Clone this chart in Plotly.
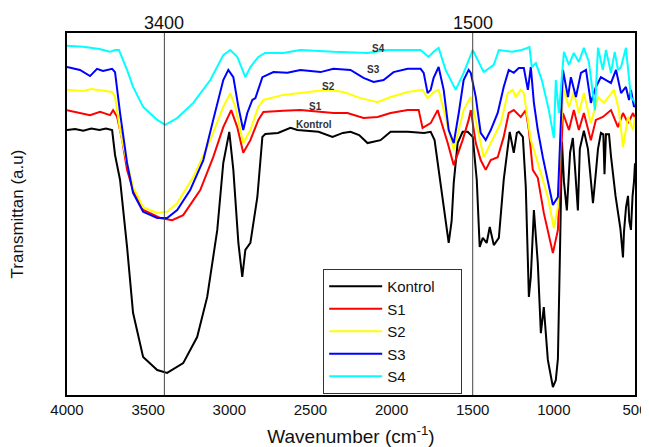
import plotly.graph_objects as go

# ---- Data (wavenumber in cm-1, transmittance in arbitrary units) ----
kontrol_wn = [4000, 3950, 3900, 3850, 3800, 3760, 3722, 3704, 3673, 3630, 3593, 3531, 3444, 3383,
              3284, 3198, 3136, 3074, 3037, 3000, 2975, 2944, 2920, 2901, 2870, 2827, 2796, 2778,
              2700, 2623, 2580, 2450, 2364, 2300, 2253, 2200, 2148, 2068, 2006, 1900, 1800, 1759,
              1735, 1716, 1679, 1648, 1630, 1617, 1593, 1562, 1531, 1500, 1475, 1457, 1438, 1414,
              1395, 1370, 1339, 1309, 1272, 1247, 1228, 1216, 1191, 1173, 1154, 1142, 1123, 1099,
              1080, 1062, 1037, 1006, 988, 975, 960, 950, 938, 920, 900, 883, 870, 852, 840, 815,
              790, 772, 759, 740, 728, 710, 695, 688, 679, 660, 648, 620, 605, 590, 574, 568, 555,
              543, 535, 525, 515, 506, 500]
kontrol_t = [73.2, 73.5, 73.0, 73.6, 73.2, 73.6, 73.2, 66.3, 59.4, 40.9, 22.7, 10.5, 6.9, 6.1,
             8.8, 16.0, 27.1, 45.6, 64.1, 72.7, 62.2, 42.0, 32.6, 40.1, 42.0, 54.7, 71.3, 72.1,
             72.4, 73.8, 73.2, 72.7, 71.3, 72.4, 72.7, 71.8, 69.6, 70.4, 72.7, 72.7, 72.4, 72.7,
             70.4, 64.1, 53.0, 42.0, 48.0, 58.6, 69.6, 72.7, 72.7, 71.3, 59.4, 40.9, 43.4, 42.0,
             46.4, 41.4, 43.4, 59.4, 72.7, 66.9, 72.4, 72.7, 71.3, 57.5, 27.1, 32.6, 51.1, 36.5,
             17.1, 24.3, 9.7, 2.2, 4.1, 10.0, 45.0, 70.0, 59.0, 51.0, 67.0, 71.0, 63.0, 51.0, 68.0, 73.0,
             68.0, 58.0, 53.0, 62.0, 68.0, 72.4, 72.0, 61.0, 72.0, 72.0, 66.0, 55.0, 51.0, 46.0, 38.0, 45.0, 52.0,
             55.0, 48.0, 45.6, 55.0, 59.0, 64.0]

s1_wn = [4000, 3920, 3858, 3796, 3735, 3716, 3691, 3660, 3630, 3593, 3531, 3426, 3352, 3284,
         3179, 3099, 3037, 2988, 2951, 2914, 2870, 2821, 2790, 2667, 2562, 2358, 2272, 2173,
         2086, 2006, 1901, 1833, 1809, 1759, 1716, 1654, 1617, 1562, 1525, 1512, 1481, 1451,
         1420, 1389, 1346, 1309, 1278, 1247, 1204, 1173, 1154, 1130, 1099, 1062, 1006, 975,
         957, 944, 907, 877, 846, 815, 772, 741, 698, 648, 605, 574, 543, 512, 500]
s1_t = [78.7, 77.9, 77.3, 78.2, 77.3, 78.7, 76.8, 70.4, 62.2, 56.6, 51.1, 48.9, 48.3, 49.7,
        56.6, 65.7, 74.0, 78.7, 74.0, 66.9, 70.4, 76.0, 78.2, 78.5, 78.7, 77.9, 77.9, 76.5,
        76.8, 77.9, 78.7, 78.7, 73.8, 75.1, 78.7, 69.6, 63.5, 70.4, 76.0, 78.7, 69.6, 64.9,
        62.2, 64.9, 65.7, 71.3, 77.9, 78.7, 76.8, 78.7, 73.2, 62.2, 60.0, 50.3, 39.2, 45.6,
        65.0, 77.9, 73.2, 78.7, 73.2, 77.9, 70.4, 76.0, 76.8, 78.7, 74.0, 77.9, 75.1, 77.9, 76.5]

s2_wn = [4000, 3900, 3850, 3760, 3722, 3704, 3673, 3630, 3593, 3531, 3444, 3383, 3321, 3222,
         3117, 3037, 2994, 2963, 2914, 2870, 2821, 2790, 2667, 2562, 2395, 2296, 2191, 2086,
         2006, 1901, 1809, 1778, 1741, 1710, 1654, 1617, 1556, 1512, 1469, 1432, 1389, 1327,
         1284, 1253, 1235, 1204, 1185, 1160, 1142, 1099, 1037, 1000, 975, 957, 938, 907, 877,
         846, 815, 772, 728, 691, 630, 599, 574, 543, 512, 500]
s2_t = [84.3, 84.0, 84.5, 84.0, 83.7, 82.3, 73.2, 64.1, 57.5, 51.9, 50.3, 50.6, 53.0, 60.2,
        70.4, 79.6, 83.4, 79.6, 69.6, 73.2, 79.6, 81.5, 82.9, 83.4, 84.3, 83.7, 82.0, 80.9,
        82.3, 83.7, 84.3, 82.0, 83.7, 84.3, 74.0, 67.7, 78.7, 82.3, 73.2, 65.7, 69.6, 75.1,
        83.4, 84.3, 82.3, 84.3, 83.4, 75.1, 70.4, 64.1, 54.7, 46.1, 51.9, 73.2, 84.3, 79.6, 83.7,
        77.9, 83.4, 75.1, 82.3, 80.7, 84.3, 78.7, 68.5, 76.8, 73.2, 76.8]

s3_wn = [4000, 3920, 3858, 3815, 3778, 3722, 3704, 3673, 3630, 3593, 3531, 3444, 3383, 3321,
         3241, 3160, 3099, 3037, 3006, 2975, 2944, 2914, 2889, 2858, 2839, 2796, 2728, 2642,
         2562, 2438, 2358, 2253, 2173, 2111, 2049, 1988, 1901, 1821, 1802, 1778, 1759, 1741,
         1710, 1679, 1648, 1617, 1586, 1556, 1525, 1512, 1481, 1451, 1420, 1389, 1346, 1309,
         1278, 1247, 1216, 1185, 1160, 1142, 1123, 1099, 1068, 1037, 1006, 975, 957, 944, 913,
         895, 864, 833, 802, 772, 741, 710, 679, 648, 617, 586, 556, 537, 525, 506, 500]
s3_t = [90.6, 89.8, 88.1, 90.1, 89.5, 90.1, 89.2, 77.9, 64.1, 55.8, 50.6, 48.9, 48.9, 51.1,
        56.6, 64.9, 76.0, 87.0, 89.8, 87.8, 79.6, 73.2, 77.9, 81.5, 82.0, 87.8, 89.2, 89.0,
        89.8, 89.2, 90.1, 89.8, 87.6, 86.5, 87.0, 89.2, 90.1, 90.1, 89.0, 83.4, 84.3, 87.6,
        90.6, 84.3, 73.2, 69.6, 77.9, 87.0, 89.8, 89.0, 82.3, 72.4, 70.4, 73.2, 77.9, 85.1,
        89.8, 89.0, 90.3, 90.3, 84.3, 90.6, 80.7, 73.2, 65.7, 58.6, 52.5, 54.7, 73.2, 89.8, 82.3,
        87.8, 82.3, 89.0, 89.8, 80.7, 85.1, 87.8, 87.0, 86.2, 89.8, 83.4, 85.1, 81.5, 84.3, 79.6, 80.0]

s4_wn = [4000, 3900, 3800, 3735, 3704, 3680, 3630, 3593, 3531, 3444, 3395, 3321, 3222, 3117,
         3037, 2994, 2951, 2901, 2870, 2821, 2780, 2667, 2562, 2358, 2148, 2025, 1821, 1772,
         1741, 1710, 1667, 1605, 1556, 1525, 1500, 1432, 1370, 1339, 1259, 1198, 1167, 1150,
         1136, 1111, 1074, 1031, 1000, 988, 969, 938, 907, 877, 846, 815, 784, 747, 728, 698,
         679, 648, 625, 605, 586, 556, 525, 500]
s4_t = [96.5, 96.2, 95.6, 94.8, 95.3, 95.3, 89.8, 85.1, 79.6, 76.0, 74.6, 76.5, 80.7, 87.0,
        93.9, 95.3, 93.4, 87.8, 90.6, 93.4, 94.5, 94.5, 95.3, 94.8, 94.5, 95.3, 95.3, 93.4,
        94.8, 95.9, 89.8, 84.3, 89.0, 92.5, 95.3, 89.2, 91.2, 95.3, 94.8, 95.3, 95.9, 96.1,
        90.6, 91.7, 87.0, 78.7, 71.0, 87.0, 77.9, 94.8, 91.2, 94.5, 92.0, 95.9, 92.0, 78.7, 95.9, 89.8,
        95.3, 89.0, 94.8, 89.8, 90.6, 95.9, 82.3, 80.9]

series_names = ["Kontrol", "S1", "S2", "S3", "S4"]
series_colors = ["#000000", "#ff0000", "#ffff00", "#0000ff", "#00ffff"]
series_wn = [kontrol_wn, s1_wn, s2_wn, s3_wn, s4_wn]
series_t = [kontrol_t, s1_t, s2_t, s3_t, s4_t]

# inline curve labels (wavenumber, transmittance)
label_text = ["S4", "S3", "S2", "S1", "Kontrol"]
label_wn = [2080, 2111, 2389, 2469, 2481]
label_t = [95.6, 89.8, 85.1, 79.6, 74.6]

ref_lines = [3400, 1500]
x_ticks = [4000, 3500, 3000, 2500, 2000, 1500, 1000, 500]

LEGEND_PAD = "\u00a0" * 5  # trailing non-breaking spaces widen the legend box

fig = go.Figure()
for name, color, wn, t in zip(series_names, series_colors, series_wn, series_t):
    fig.add_trace(go.Scatter(x=wn, y=t, mode="lines", name=name + LEGEND_PAD,
                             line=dict(color=color, width=2)))

for w in ref_lines:
    fig.add_shape(type="line", xref="x", yref="paper", x0=w, x1=w, y0=0, y1=1,
                  line=dict(color="#444444", width=1), layer="above")
    fig.add_annotation(x=w, xref="x", y=1.028, yref="paper", text=str(w), showarrow=False,
                       yanchor="middle", font=dict(size=18, color="#111111"))

for txt, w, t in zip(label_text, label_wn, label_t):
    fig.add_annotation(x=w, y=t, text="<b>" + txt + "</b>", showarrow=False,
                       font=dict(size=10, color="#333333"))

# the page body adds an 8 px offset, so the figure is sized to fit the 649x447 window
fig.update_layout(
    width=641, height=439,
    margin=dict(l=59, r=14, t=25, b=52, autoexpand=False),
    paper_bgcolor="white", plot_bgcolor="white",
    font=dict(family="Liberation Sans, Arial, sans-serif", color="#111111"),
    showlegend=True,
    legend=dict(x=0.451, y=0.348, xanchor="left", yanchor="top",
                bordercolor="#333333", borderwidth=1, bgcolor="white",
                font=dict(size=15), tracegroupgap=0, itemwidth=53),
    xaxis=dict(range=[4000, 500], tickvals=x_ticks, ticks="", showgrid=False, zeroline=False,
               showline=True, linecolor="black", linewidth=2, mirror=True, automargin=False,
               tickfont=dict(size=15), ticklabelstandoff=0,
               title=dict(text="Wavenumber (cm<sup>-1</sup>)", font=dict(size=19), standoff=14)),
    yaxis=dict(range=[0, 100], showticklabels=False, ticks="", showgrid=False, zeroline=False,
               showline=True, linecolor="black", linewidth=2, mirror=True, automargin=False,
               title=dict(text="Transmittan (a.u)", font=dict(size=17), standoff=42)),
)

fig.write_html("out.html")
